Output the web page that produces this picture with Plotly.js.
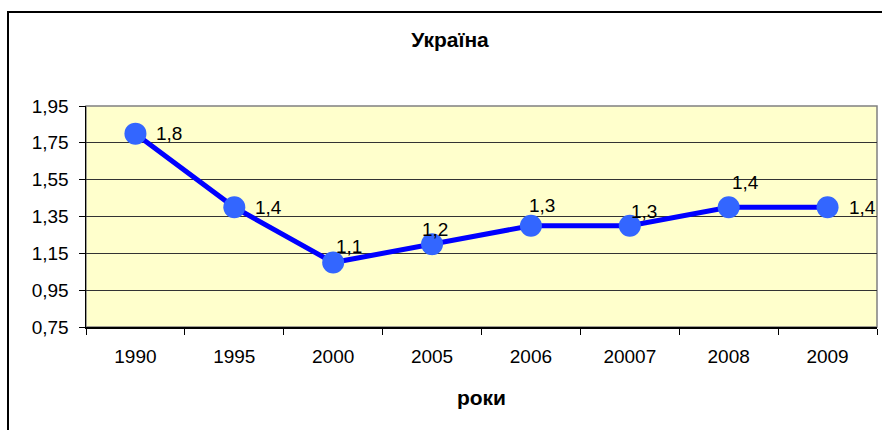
<!DOCTYPE html>
<html><head><meta charset="utf-8">
<script src="https://cdn.plot.ly/plotly-3.0.1.min.js"></script>
<style>body{margin:0;background:#fff}#c{width:882px;height:430px}</style>
</head><body><div id="c"></div>
<script>
const years = ["1990","1995","2000","2005","2006","20007","2008","2009"];
const values = [1.8, 1.4, 1.1, 1.2, 1.3, 1.3, 1.4, 1.4];
const yTicks = [0.75, 0.95, 1.15, 1.35, 1.55, 1.75, 1.95];
const chartTitle = "Україна";
const xTitle = "роки";
// label offsets (px) from each marker centre
const labelDx = [19, 19, 1, -12, -4, -1, 1, 19];
const labelDy = [0, 0, 16, 15, 20, 14, 25, 0];

const fnt = "Arial, 'Liberation Sans', sans-serif";
const fmt = v => v.toFixed(1).replace(".", ",");
const trace = {
  x: years, y: values, type: "scatter", mode: "lines+markers",
  line: {color: "#0000FF", width: 5},
  marker: {color: "#3366FF", size: 22},
  cliponaxis: false, hoverinfo: "none"
};
const annotations = years.map((yr, i) => ({
  x: i, y: values[i], xref: "x", yref: "y", text: fmt(values[i]), showarrow: false,
  xanchor: "left", yanchor: "middle", xshift: labelDx[i], yshift: labelDy[i],
  font: {family: fnt, size: 19, color: "#000"}
}));
const layout = {
  width: 882, height: 430,
  margin: {l: 86, r: 5, t: 106, b: 103},
  paper_bgcolor: "#fff", plot_bgcolor: "#FFFFCC",
  showlegend: false,
  annotations: annotations,
  title: {text: chartTitle, font: {family: fnt, size: 21, color: "#000", weight: "bold"}, x: 450/882, xref: "container", xanchor: "center", y: 1 - 40/430, yanchor: "middle"},
  xaxis: {
    type: "category", categoryarray: years, categoryorder: "array", range: [-0.5, 7.5], fixedrange: true,
    tickson: "boundaries", ticks: "outside", ticklen: 6, tickcolor: "#000",
    showline: true, linecolor: "#000", linewidth: 1.5, showgrid: false, zeroline: false,
    ticklabelstandoff: 12,
    tickfont: {family: fnt, size: 19, color: "#000"},
    title: {text: xTitle, font: {family: fnt, size: 21, color: "#000", weight: "bold"}, standoff: 24}
  },
  yaxis: {
    range: [0.75, 1.95], tickvals: yTicks, ticktext: yTicks.map(v => v.toFixed(2).replace(".", ",")),
    ticks: "outside", ticklen: 6, tickcolor: "#000",
    showline: true, linecolor: "#000", linewidth: 1.5,
    showgrid: true, gridcolor: "#333", gridwidth: 1, zeroline: false,
    ticklabelstandoff: 6,
    tickfont: {family: fnt, size: 19, color: "#000"}, fixedrange: true
  },
  shapes: [
    {type: "rect", xref: "paper", yref: "paper", x0: 0, x1: 1, y0: 0, y1: 1, line: {color: "#808080", width: 1.5}, layer: "below"},
    {type: "rect", xref: "paper", yref: "paper", x0: -78/791, x1: 1.05, y0: -0.5, y1: (327-12)/221, line: {color: "#000", width: 2}, fillcolor: "rgba(0,0,0,0)"}
  ]
};
Plotly.newPlot("c", [trace], layout, {displayModeBar: false, staticPlot: true});
</script>
</body></html>
